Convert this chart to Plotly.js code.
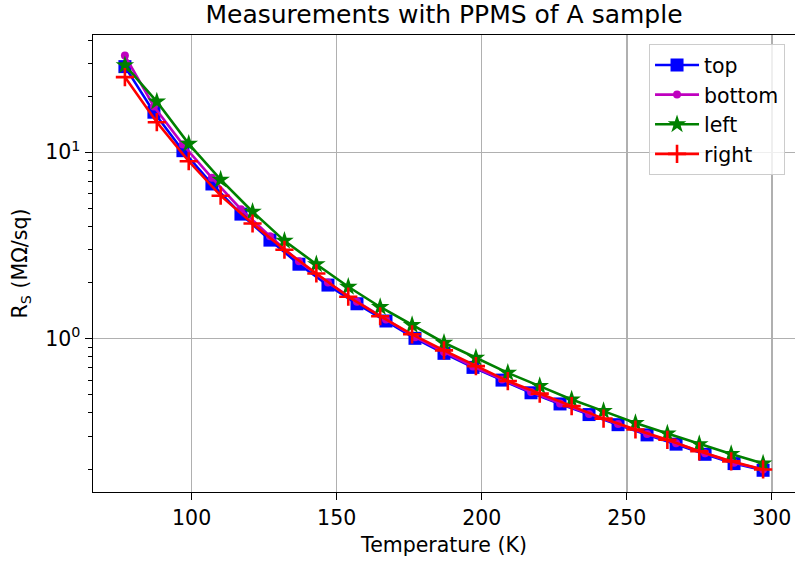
<!DOCTYPE html>
<html>
<head>
<meta charset="utf-8">
<script src="https://cdn.plot.ly/plotly-3.0.1.min.js"></script>
<style>html,body{margin:0;padding:0;background:#fff;}#chart{width:795px;height:561px;}</style>
</head>
<body>
<div id="chart"></div>
<script>
// Temperatures (K)
const tempTB = [77, 87, 97, 107, 117, 127, 137, 147, 157, 167, 177, 187, 197, 207, 217, 227, 237, 247, 257, 267, 277, 287, 297];
const tempLR = [77, 88, 99, 110, 121, 132, 143, 154, 165, 176, 187, 198, 209, 220, 231, 242, 253, 264, 275, 286, 297];

// Sheet resistance (MOhm/sq)
const rsTop = [28.8, 16.4, 10.2, 6.76, 4.66, 3.38, 2.51, 1.94, 1.54, 1.245, 1.005, 0.835, 0.702, 0.600, 0.513, 0.447, 0.392, 0.346, 0.305, 0.272, 0.240, 0.214, 0.197];
const rsBottom = [33.0, 17.6, 11.0, 7.3, 4.95, 3.55, 2.60, 2.00, 1.58, 1.27, 1.02, 0.85, 0.71, 0.605, 0.518, 0.450, 0.395, 0.349, 0.308, 0.275, 0.243, 0.216, 0.199];
const rsLeft = [29.3, 18.7, 11.1, 7.13, 4.80, 3.35, 2.51, 1.90, 1.48, 1.185, 0.952, 0.791, 0.656, 0.557, 0.472, 0.409, 0.353, 0.310, 0.272, 0.241, 0.214];
const rsRight = [25.3, 14.5, 8.95, 5.85, 4.15, 3.00, 2.24, 1.68, 1.32, 1.056, 0.866, 0.713, 0.593, 0.508, 0.435, 0.373, 0.326, 0.287, 0.249, 0.220, 0.199];

const seriesNames = ['top', 'bottom', 'left', 'right'];

const FONT = 'DejaVu Sans, Liberation Sans, sans-serif';
const FS = 20.5;

const traces = [
  {x: tempTB, y: rsTop, name: seriesNames[0], mode: 'lines+markers', type: 'scatter',
   line: {color: '#0000ff', width: 2.6},
   marker: {symbol: 'square', size: 13, color: '#0000ff'}},
  {x: tempTB, y: rsBottom, name: seriesNames[1], mode: 'lines+markers', type: 'scatter',
   line: {color: '#bf00bf', width: 2.6},
   marker: {symbol: 'circle', size: 8, color: '#bf00bf'}},
  {x: tempLR, y: rsLeft, name: seriesNames[2], mode: 'lines+markers', type: 'scatter',
   line: {color: '#008000', width: 2.6},
   marker: {symbol: 'star', size: 14, color: '#008000'}},
  {x: tempLR, y: rsRight, name: seriesNames[3], mode: 'lines+markers', type: 'scatter',
   line: {color: '#ff0000', width: 2.6},
   marker: {symbol: 'cross-thin', size: 13, color: '#ff0000', line: {color: '#ff0000', width: 2.6}}}
];

const minorVals = [];
[0.1, 1, 10].forEach(d => { for (let k = 2; k <= 9; k++) minorVals.push(k * d); });

const layout = {
  width: 795, height: 561,
  margin: {l: 93, r: 0, t: 35, b: 69},
  paper_bgcolor: '#ffffff', plot_bgcolor: '#ffffff',
  font: {family: FONT, size: FS, color: '#000000'},
  title: {text: 'Measurements with PPMS of A sample', font: {family: FONT, size: 25, color: '#000'},
          x: 0.5, xref: 'paper', y: 0.975, yref: 'container', yanchor: 'middle'},
  xaxis: {
    range: [66, 308], tickvals: [100, 150, 200, 250, 300],
    ticks: 'outside', ticklen: 7, tickwidth: 1.4, tickcolor: '#000',
    showline: true, linecolor: '#000', linewidth: 1.4, mirror: true,
    showgrid: true, gridcolor: '#b0b0b0', gridwidth: 1.5, zeroline: false,
    tickfont: {family: FONT, size: FS},
    title: {text: 'Temperature (K)', font: {family: FONT, size: FS}, standoff: 8}
  },
  yaxis: {
    type: 'log', range: [-0.822, 1.629],
    tickvals: [1, 10], ticktext: ['10<sup>0</sup>', '10<sup>1</sup>'],
    ticks: 'outside', ticklen: 7, tickwidth: 1.4, tickcolor: '#000',
    showline: true, linecolor: '#000', linewidth: 1.4, mirror: true,
    showgrid: true, gridcolor: '#b0b0b0', gridwidth: 1.5, zeroline: false,
    tickfont: {family: FONT, size: FS},
    minor: {tickmode: 'array', tickvals: minorVals, ticks: 'outside', ticklen: 4, tickwidth: 1, tickcolor: '#000', showgrid: false},
    title: {text: 'R<sub>S</sub> (MΩ/sq)', font: {family: FONT, size: FS}, standoff: 12}
  },
  showlegend: true,
  legend: {x: 0.9858, xanchor: 'right', y: 0.98, yanchor: 'top',
           bgcolor: 'rgba(255,255,255,0.8)', bordercolor: '#cccccc', borderwidth: 1,
           font: {family: FONT, size: FS}, itemwidth: 44, tracegroupgap: 0}
};

Plotly.newPlot('chart', traces, layout, {displayModeBar: false, staticPlot: true});
</script>
</body>
</html>
